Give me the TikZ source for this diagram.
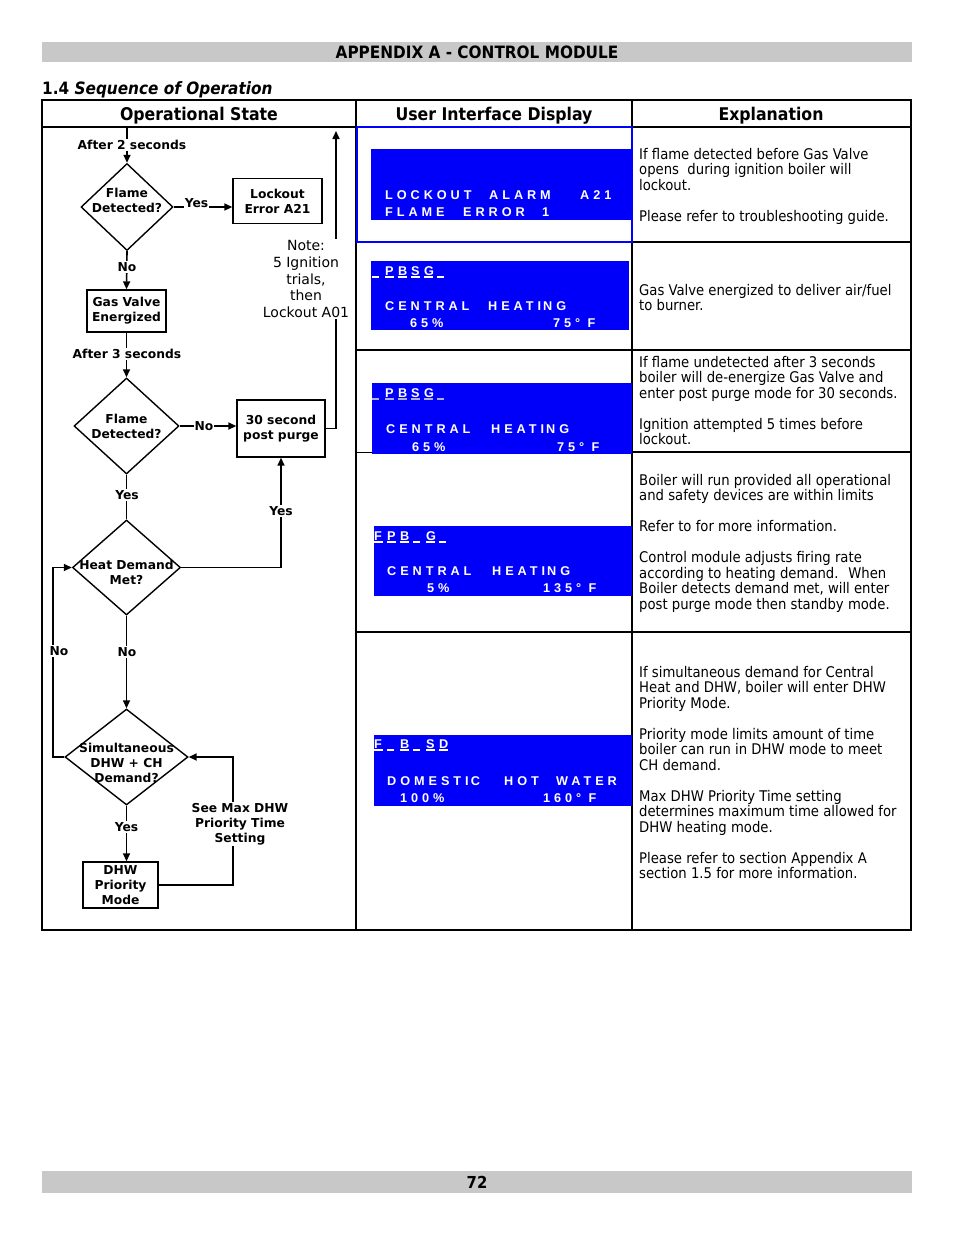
\documentclass[tikz,border=0pt]{standalone}
\usepackage{fontspec}
\usepackage{tikz}
\usetikzlibrary{shapes.geometric, arrows.meta}
\setmainfont{DejaVu Sans}
\newfontfamily\condfont{DejaVu Sans Condensed}
\newfontfamily\lcdfont[LetterSpace=31]{Liberation Sans Bold}
\definecolor{bargray}{RGB}{200,200,200}
\definecolor{lcdblue}{RGB}{0,0,250}
\definecolor{slotgray}{RGB}{175,175,215}
\newcommand{\flowfont}{\fontsize{12.3}{15}\selectfont\bfseries}
\newcommand{\explfont}{\condfont\fontsize{14.7}{15.5}\selectfont}
\newcommand{\lcdtxt}{\lcdfont\fontsize{12.7}{14}\selectfont}
\newcommand{\slotline}{white}
\newcommand{\slot}[1]{\makebox[13pt][l]{\rlap{\color{\slotline}\rule[-2.6pt]{8.5pt}{1.3pt}}#1}}
\newcommand{\blank}{\makebox[13pt][l]{\color{\slotline}\rule[-2.6pt]{6.5pt}{1.3pt}}}
\newcommand{\lcdcol}[2]{\makebox[#1pt][l]{#2}}

\begin{document}
\begin{tikzpicture}[x=1pt, y=-1pt, >={Triangle[length=8pt, width=7pt]}]
        \tikzstyle{dec} = [draw, diamond, line width=1.4pt, inner sep=0pt]
        \tikzstyle{blk} = [draw, rectangle, line width=1.4pt, align=center, font=\flowfont, inner sep=0pt]
        \tikzstyle{lbl} = [fill=white, inner sep=1pt, align=center, font=\flowfont]
        \tikzstyle{flow} = [line width=1.6pt]
        \tikzstyle{lcd} = [anchor=base west, inner sep=0pt, text=white, font=\lcdtxt]
        \tikzstyle{expl} = [anchor=north west, inner sep=0pt, align=left, font=\explfont]
        \tikzstyle{head} = [anchor=base, inner sep=0pt, font=\condfont\bfseries\fontsize{17.5}{20}\selectfont]
        \useasboundingbox (0,0) rectangle (954,1235);

        \fill[bargray] (42,42) rectangle (912,62);
        \fill[bargray] (42,1171) rectangle (912,1193);
        \node[head, font=\condfont\bfseries\fontsize{17}{18}\selectfont] (appx) at (477,58.5) {APPENDIX A - CONTROL MODULE};
        \node[head, anchor=base west, font=\condfont\bfseries\fontsize{17}{20}\selectfont] (sect) at (42,94) {1.4 \textit{Sequence of Operation}};
        \node[head, font=\condfont\bfseries\fontsize{16.5}{18}\selectfont] (page) at (477,1188) {72};

        \draw[line width=2pt] (42,100) rectangle (911,930);
        \draw[line width=2pt] (42,127) -- (911,127);
        \draw[line width=2pt] (356,100) -- (356,930);
        \draw[line width=2pt] (632,100) -- (632,930);
        \draw[line width=1.8pt] (356,242) -- (911,242);
        \draw[line width=1.8pt] (356,350) -- (911,350);
        \draw[line width=1pt] (356,452) -- (632,452);
        \draw[line width=1.8pt] (632,452) -- (911,452);
        \draw[line width=1.8pt] (356,632) -- (911,632);
        \node[head] (h1) at (199,120) {Operational State};
        \node[head] (h2) at (494,120) {User Interface Display};
        \node[head] (h3) at (771,120) {Explanation};
        \draw[blue, line width=1.5pt] (357,127) rectangle (632,242);

        \fill[lcdblue] (371,149) rectangle (632,220);
        \fill[lcdblue] (371,261) rectangle (629,330);
        \fill[lcdblue] (372,383) rectangle (632,454);
        \fill[lcdblue] (374,526) rectangle (632,596);
        \fill[lcdblue] (374,735) rectangle (632,806);
        \node[lcd] (l1a) at (385,199) {\lcdcol{104}{LOCKOUT}\lcdcol{91}{ALARM}A21};
        \node[lcd] (l1b) at (385,216) {\lcdcol{78}{FLAME}\lcdcol{79}{ERROR}1};
        \node[lcd] (l2a) at (372,275) {\blank\slot{P}\slot{B}\slot{S}\slot{G}\blank};
        \node[lcd] (l2b) at (385,310) {\lcdcol{103}{CENTRAL}HEATI\,NG};
        \node[lcd] (l2c) at (410,327) {\lcdcol{143}{65\%}75° F};
        \node[lcd] (l3a) at (372,397) {\def\slotline{slotgray}\blank\slot{P}\slot{B}\slot{S}\slot{G}\blank};
        \node[lcd] (l3b) at (386,433) {\lcdcol{105}{CENTRAL}HEATI\,NG};
        \node[lcd] (l3c) at (412,451) {\lcdcol{145}{65\%}75° F};
        \node[lcd] (l4a) at (374,540) {\slot{F}\slot{P}\slot{B}\blank\slot{G}\blank};
        \node[lcd] (l4b) at (387,575) {\lcdcol{105}{CENTRAL}HEATI\,NG};
        \node[lcd] (l4c) at (427,592) {\lcdcol{116}{5\%}135° F};
        \node[lcd] (l5a) at (374,748) {\slot{F}\blank\slot{B}\blank\slot{S}\slot{D}};
        \node[lcd] (l5b) at (387,785) {\lcdcol{117}{DOMESTI\,C}\lcdcol{52}{HOT}WATER};
        \node[lcd] (l5c) at (400,802) {\lcdcol{143}{100\%}160° F};

        \node[expl] (e1) at (639,148) {If flame detected before Gas Valve\\opens~ during ignition boiler will\\lockout.\\[15.5pt]Please refer to troubleshooting guide.};
        \node[expl] (e2) at (639,284) {Gas Valve energized to deliver air/fuel\\to burner.};
        \node[expl] (e3) at (639,356) {If flame undetected after 3 seconds\\boiler will de-energize Gas Valve and\\enter post purge mode for 30 seconds.\\[15.5pt]Ignition attempted 5 times before\\lockout.};
        \node[expl] (e4) at (639,474) {Boiler will run provided all operational\\and safety devices are within limits\\[15.5pt]Refer to for more information.\\[15.5pt]Control module adjusts firing rate\\according to heating demand.~ When\\Boiler detects demand met, will enter\\post purge mode then standby mode.};
        \node[expl] (e5) at (639,666) {If simultaneous demand for Central\\Heat and DHW, boiler will enter DHW\\Priority Mode.\\[15.5pt]Priority mode limits amount of time\\boiler can run in DHW mode to meet\\CH demand.\\[15.5pt]Max DHW Priority Time setting\\determines maximum time allowed for\\DHW heating mode.\\[15.5pt]Please refer to section Appendix A\\section 1.5 for more information.};

        \coordinate (start) at (127,128);
        \coordinate (retry) at (336,131);
        \node[dec, minimum width=92pt, minimum height=87pt, label={[font=\flowfont, align=center, yshift=7pt]center:{Flame\\Detected?}}] (fd1) at (127,207) {};
        \node[blk, minimum width=89pt, minimum height=45pt] (lock) at (277.5,201) {Lockout\\Error A21};
        \node[blk, minimum width=79pt, minimum height=42pt] (gv) at (126.5,311) {Gas Valve\\Energized};
        \node[dec, minimum width=105pt, minimum height=96pt, label={[font=\flowfont, align=center]center:{Flame\\Detected?}}] (fd2) at (126.5,426) {};
        \node[blk, minimum width=88pt, minimum height=57pt] (purge) at (281,428.5) {30 second\\post purge};
        \node[dec, minimum width=108pt, minimum height=95pt, label={[font=\flowfont, align=center, yshift=-5pt]center:{Heat Demand\\Met?}}] (hd) at (126.5,567.5) {};
        \node[dec, minimum width=123pt, minimum height=96pt, label={[font=\flowfont, align=center, yshift=-6pt]center:{Simultaneous\\DHW + CH\\Demand?}}] (sim) at (126.5,757) {};
        \node[blk, minimum width=75pt, minimum height=46pt] (dhw) at (120.5,885) {DHW\\Priority\\Mode};

        \draw[->, flow] (start) -- (fd1.north);
        \draw[->, flow] (fd1.east) -- (fd1.east -| lock.west);
        \draw[->, flow] (fd1.south) -- (gv.north);
        \draw[->, flow] (gv.south) -- (fd2.north);
        \draw[->, flow] (fd2.east) -- (fd2.east -| purge.west);
        \draw[->, flow] (purge.east) -| (retry);
        \draw[flow] (fd2.south) -- (hd.north);
        \draw[->, flow] (hd.east) -| (purge.south);
        \draw[->, flow] (hd.south) -- (sim.north);
        \draw[->, flow] (sim.west) -| (53,620) |- (hd.west);
        \draw[->, flow] (sim.south) -- (sim.south |- dhw.north);
        \draw[->, flow] (dhw.east) -| (233,820) |- (sim.east);

        \node[lbl] (a2) at (132,145) {After 2 seconds};
        \node[lbl] (y1) at (196.5,203) {Yes};
        \node[lbl] (n1) at (127,267) {No};
        \node[lbl] (a3) at (127,354) {After 3 seconds};
        \node[lbl] (n2) at (204,426) {No};
        \node[lbl] (y2) at (127,495) {Yes};
        \node[lbl] (y3) at (281,511) {Yes};
        \node[lbl] (n3) at (127,652) {No};
        \node[lbl] (n4) at (59,651) {No};
        \node[lbl] (y4) at (126.5,827) {Yes};
        \node[lbl] (seemax) at (240,824) {See Max DHW\\Priority Time\\Setting};
        \node[fill=white, inner sep=2pt, align=center, font=\fontsize{14}{16.6}\selectfont] (note) at (306,279) {Note:\\5 Ignition\\trials,\\then\\Lockout A01};
      \end{tikzpicture}
\end{document}
